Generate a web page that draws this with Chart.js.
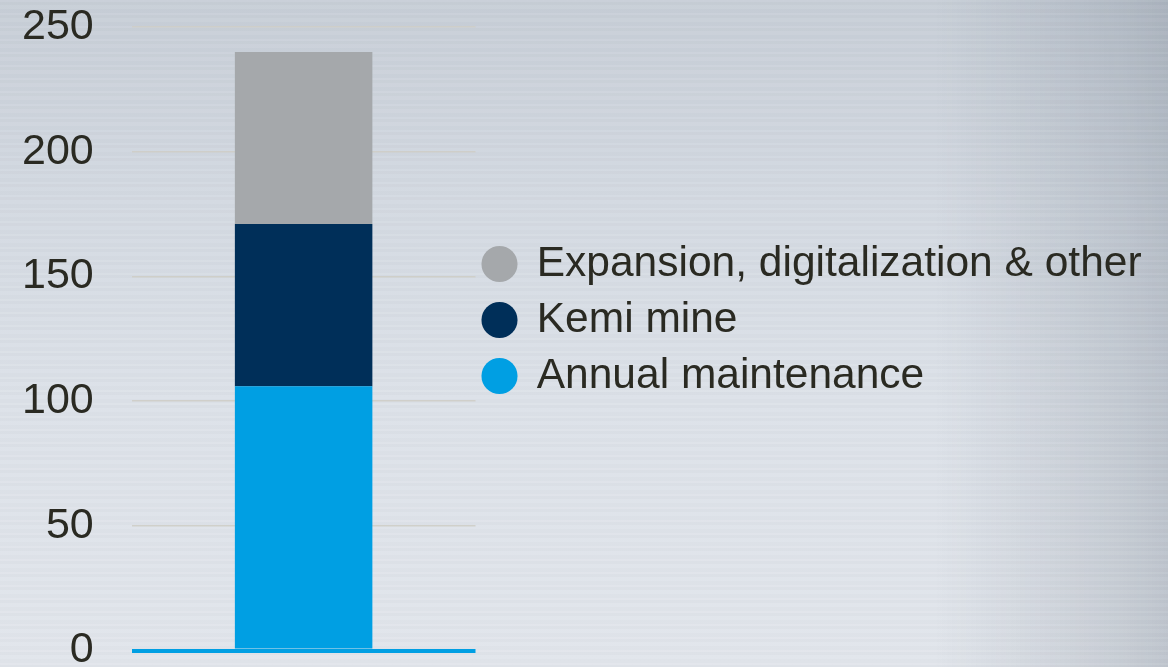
<!DOCTYPE html>
<html>
<head>
<meta charset="utf-8">
<script src="https://cdn.jsdelivr.net/npm/chart.js@4/dist/chart.umd.min.js"></script>
<style>
  html, body {
    margin: 0;
    padding: 0;
    width: 1168px;
    height: 667px;
    overflow: hidden;
  }
  body {
    background:
      repeating-linear-gradient(180deg, rgba(255,255,255,0.05) 0 2px, rgba(0,0,0,0.012) 2px 5px, rgba(255,255,255,0.03) 5px 9px, rgba(0,0,0,0.008) 9px 13px),
      linear-gradient(90deg, rgba(0,0,0,0) 0%, rgba(0,0,0,0) 80%, rgba(55,70,88,0.15) 96%, rgba(55,70,88,0.2) 100%),
      linear-gradient(180deg, #c7ced7 0%, #d3d9e1 30%, #dce1e8 60%, #e1e5eb 100%);
  }
  #wrap {
    position: absolute;
    left: 0;
    top: 0;
    width: 1168px;
    height: 700px;
  }
</style>
</head>
<body>
<div id="wrap"><canvas id="chart"></canvas></div>
<script>
// capex split, one stacked column
const categories = ['Capex']
const seriesNames = ['Annual maintenance', 'Kemi mine', 'Expansion, digitalization & other']
const annualMaintenance = [106]
const kemiMine = [65]
const expansionOther = [69]
const yTicks = [0, 50, 100, 150, 200, 250]

const colors = ['#009fe3', '#002f59', '#a5a8ab']
const textColor = '#2a2a22'
const fontFamily = '"Liberation Sans", Arial, Helvetica, sans-serif'

// the right legend is squeezed to a quarter width by chart.js,
// so after layout give it the whole strip right of the plot
const legendBox = {
    id: 'legendBox',
    afterLayout(chart) {
        const lg = chart.legend
        if (!lg) return
        lg.left = 470
        lg.right = 1168
        lg.width = lg.right - lg.left
        lg.top = 0
        lg.bottom = 640
        lg.height = lg.bottom - lg.top
    }
}

const seriesValues = [annualMaintenance, kemiMine, expansionOther]

new Chart(document.getElementById('chart'), {
    type: 'bar',
    data: {
        labels: categories,
        datasets: seriesValues.map((vals, i) => ({
            label: seriesNames[i],
            data: vals,
            backgroundColor: colors[i],
            borderWidth: 0,
            barPercentage: 0.4,
            categoryPercentage: 1
        }))
    },
    options: {
        responsive: true,
        maintainAspectRatio: false,
        animation: false,
        layout: {
            padding: { left: 22, top: 27, bottom: 49.5, right: 541.33 }
        },
        scales: {
            x: {
                stacked: true,
                display: false
            },
            y: {
                stacked: true,
                min: yTicks[0],
                max: yTicks[yTicks.length - 1],
                afterBuildTicks(axis) {
                    axis.ticks = yTicks.map(v => ({ value: v }))
                },
                border: { display: false },
                grid: {
                    drawTicks: true,
                    tickLength: 38,
                    tickColor: 'rgba(0,0,0,0)',
                    color: ctx => ctx.tick && ctx.tick.value === 0 ? '#009fe3' : 'rgba(206,205,199,0.9)',
                    lineWidth: ctx => ctx.tick && ctx.tick.value === 0 ? 4 : 1.5
                },
                ticks: {
                    padding: 0,
                    color: textColor,
                    font: { family: fontFamily, size: 43 }
                }
            }
        },
        plugins: {
            tooltip: { enabled: false },
            legend: {
                position: 'right',
                reverse: true,
                labels: {
                    usePointStyle: true,
                    pointStyle: 'circle',
                    boxWidth: 32,
                    boxHeight: 25.5,
                    padding: 13.5,
                    color: textColor,
                    font: { family: fontFamily, size: 42.5 }
                }
            }
        }
    },
    plugins: [legendBox]
})
</script>
</body>
</html>
